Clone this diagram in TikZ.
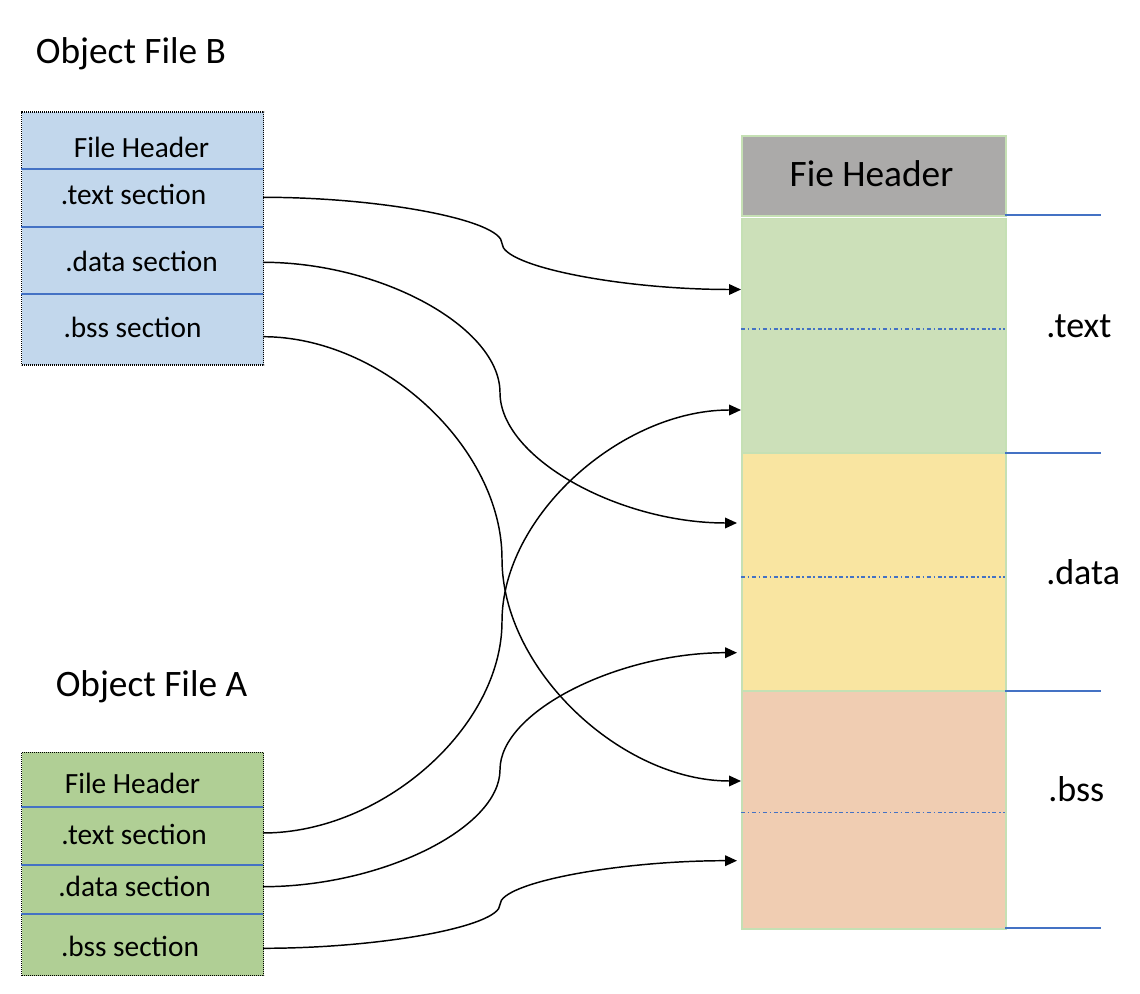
\documentclass[tikz,border=0pt]{standalone}
\usepackage{fontspec}
\setmainfont{Carlito}
\usetikzlibrary{arrows.meta,positioning,calc}

\definecolor{fileB}{HTML}{C2D7EC}
\definecolor{fileA}{HTML}{B0CF95}
\definecolor{hdrGray}{HTML}{ABAAA9}
\definecolor{segText}{HTML}{CCE0B9}
\definecolor{segData}{HTML}{F9E5A1}
\definecolor{segBss}{HTML}{F0CDB2}
\definecolor{segEdge}{HTML}{C5E0B4}
\definecolor{lineBlue}{HTML}{4472C4}

\begin{document}
\begin{tikzpicture}[x=0.75pt, y=-0.75pt,
    title/.style={anchor=base, font=\fontsize{28}{34}\selectfont},
    sec/.style={anchor=base, font=\fontsize{22}{26}\selectfont},
    seglabel/.style={anchor=base west, inner sep=0pt, font=\fontsize{27}{32}\selectfont},
    objbox/.style={draw=black, line width=0.9pt, dash pattern=on 0.8pt off 0.7pt, anchor=north west, minimum width=181.5pt, inner sep=0pt},
    seg/.style={draw=segEdge, line width=1.2pt, anchor=north west, minimum width=198pt, inner sep=0pt},
    sep/.style={lineBlue, line width=1.3pt},
    mark line/.style={lineBlue, line width=1pt, dash pattern=on 3pt off 2pt on 1.2pt off 2pt},
    link/.style={line width=1.1pt, -{Triangle[length=9pt, width=8pt]}}]

    \useasboundingbox (0,0) rectangle (1140,994);

    % Object File B
    \node[title] (titleB) at (131,63.3) {Object File B};
    \node[objbox, fill=fileB, minimum height=189.75pt] (boxB) at (21,111.5) {};
    \foreach \y in {169, 226.7, 294} {
        \draw[sep] (21,\y) -- (263,\y);
    }
    \node[sec] (bHead) at (141.5,158) {File Header};
    \node[sec] (bText) at (133.5,205) {.text section};
    \node[sec] (bData) at (141.5,271.7) {.data section};
    \node[sec] (bBss) at (132.5,338) {.bss section};

    % Object File A
    \node[title] (titleA) at (151.5,696.7) {Object File A};
    \node[objbox, fill=fileA, minimum height=167.5pt] (boxA) at (21,751.7) {};
    \foreach \y in {806.7, 865, 914.3} {
        \draw[sep] (21,\y) -- (263,\y);
    }
    \node[sec] (aHead) at (132.5,794) {File Header};
    \node[sec] (aText) at (134,845) {.text section};
    \node[sec] (aData) at (134.5,896.7) {.data section};
    \node[sec] (aBss) at (130,956.7) {.bss section};

    % Output file
    \node[seg, fill=hdrGray, minimum height=59.6pt] (hdr) at (741,135.5) {};
    \node[title] at (871.5,186.7) {Fie Header};
    \node[seg, fill=segText, minimum height=176pt] (segT) at (741,217.7) {};
    \node[seg, fill=segData, minimum height=178pt] (segD) at (741,452.7) {};
    \node[seg, fill=segBss, minimum height=178pt] (segB) at (741,690.7) {};
    \foreach \y in {329, 577, 812.7} {
        \draw[mark line] (741,\y) -- (1005,\y);
    }
    \foreach \y in {214.7, 452.7, 690.7, 928} {
        \draw[sep] (1005,\y) -- (1101,\y);
    }
    \node[seglabel] (lText) at (1046,338) {.text};
    \node[seglabel] (lData) at (1046,585) {.data};
    \node[seglabel] (lBss) at (1048,801.7) {.bss};

    % Connector ends
    \coordinate (bTextR) at (263,197.3);
    \coordinate (bDataR) at (263,262.3);
    \coordinate (bBssR) at (263,336.7);
    \coordinate (aTextR) at (263,833);
    \coordinate (aDataR) at (263,886.7);
    \coordinate (aBssR) at (263,948.3);
    \coordinate (inBT) at (741,289.5);
    \coordinate (inAT) at (741,410);
    \coordinate (inBD) at (737,523);
    \coordinate (inAD) at (737,652.7);
    \coordinate (inBB) at (741,781);
    \coordinate (inAB) at (737,860.7);

    % Curved links
    \foreach \s/\t in {bTextR/inBT, bDataR/inBD, bBssR/inBB, aTextR/inAT, aDataR/inAD, aBssR/inAB} {
        \draw[link] let \p1=(\s), \p2=(\t) in
            (\p1) .. controls ({(3*\x1+\x2)/4},\y1) and ({(\x1+\x2)/2},{(3*\y1+\y2)/4})
            .. ({(\x1+\x2)/2},{(\y1+\y2)/2})
            .. controls ({(\x1+\x2)/2},{(\y1+3*\y2)/4}) and ({(\x1+3*\x2)/4},\y2) .. (\p2);
    }
\end{tikzpicture}
\end{document}
